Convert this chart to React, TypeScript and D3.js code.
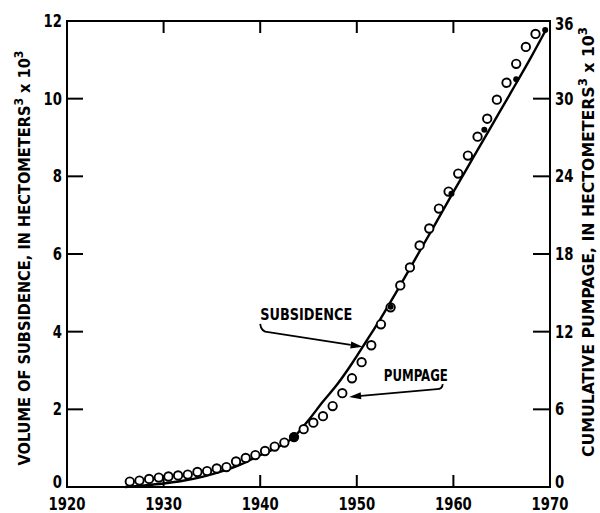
import React from "react";
import * as d3 from "d3";

// Cumulative pumpage (right axis, hm3 x 10^3), annual points plotted at mid-year
const pumpYears = [
  1926.5, 1927.5, 1928.5, 1929.5, 1930.5, 1931.5, 1932.5, 1933.5, 1934.5, 1935.5,
  1936.5, 1937.5, 1938.5, 1939.5, 1940.5, 1941.5, 1942.5, 1943.5, 1944.5, 1945.5,
  1946.5, 1947.5, 1948.5, 1949.5, 1950.5, 1951.5, 1952.5, 1953.5, 1954.5, 1955.5,
  1956.5, 1957.5, 1958.5, 1959.5, 1960.5, 1961.5, 1962.5, 1963.5, 1964.5, 1965.5,
  1966.5, 1967.5, 1968.5,
];
const pumpage = [
  0.42, 0.5, 0.62, 0.73, 0.81, 0.89, 0.96, 1.16, 1.23, 1.43,
  1.54, 1.97, 2.24, 2.47, 2.78, 3.12, 3.43, 3.86, 4.47, 4.97,
  5.47, 6.25, 7.25, 8.4, 9.64, 10.95, 12.57, 13.88, 15.57, 16.96,
  18.66, 19.97, 21.51, 22.82, 24.21, 25.6, 27.06, 28.45, 29.92, 31.23,
  32.69, 34.0, 35.0,
];

// Volume of subsidence curve (left axis, hm3 x 10^3)
const subYears = [
  1926, 1928, 1930, 1932, 1934, 1936, 1938, 1940, 1942, 1943.5, 1945, 1946.5,
  1948, 1949.5, 1951, 1952.5, 1954, 1956, 1958, 1960, 1962, 1964, 1966, 1968, 1969.6,
];
const subsidence = [
  0, 0.04, 0.09, 0.16, 0.26, 0.4, 0.58, 0.82, 1.05, 1.29, 1.72, 2.2,
  2.65, 3.18, 3.76, 4.35, 4.98, 5.85, 6.72, 7.6, 8.46, 9.32, 10.18, 11.05, 11.78,
];

// Solid (filled) points along the subsidence curve
const filledYears = [1943.5, 1953.5, 1959.8, 1963.2, 1966.5, 1969.5];
const filledValues = [1.29, 4.64, 7.55, 9.2, 10.5, 11.77];

// Tick labels
const xTicks = [1920, 1930, 1940, 1950, 1960, 1970];
const leftTicks = [0, 2, 4, 6, 8, 10, 12];
const rightTicks = [0, 6, 12, 18, 24, 30, 36];

const W = 600;
const H = 513;
const FONT = "'DejaVu Sans Condensed', 'DejaVu Sans', 'Liberation Sans Narrow', sans-serif";

export default function App() {
  const x = d3.scaleLinear().domain([1920, 1970]).range([67, 550]);
  const yL = d3.scaleLinear().domain([0, 12]).range([487, 21]);
  const yR = d3.scaleLinear().domain([0, 36]).range([487, 21]);

  const line = d3
    .line<number>()
    .x((_, i) => x(subYears[i]))
    .y((d) => yL(d))
    .curve(d3.curveMonotoneX);

  const x0 = x(1920);
  const x1 = x(1970);
  const yTop = yL(12);
  const yBot = yL(0);

  const textStyle: React.CSSProperties = {
    fontFamily: FONT,
    fontWeight: "bold",
    fontStretch: "condensed",
  };

  // annotation anchors in data units
  const subLabel = [1940.0, 4.3];
  const subArrow = [
    [1940.0, 4.2],
    [1940.85, 3.99],
    [1950.6, 3.61],
  ];
  const pumpLabel = [1952.8, 2.73];
  const pumpArrow = [
    [1958.9, 2.65],
    [1958.3, 2.52],
    [1949.2, 2.32],
  ];

  const arrow = (pts: number[][]) => {
    const p = pts.map(([a, b]) => [x(a), yL(b)]);
    const [s, c, t] = p;
    const ang = Math.atan2(t[1] - c[1], t[0] - c[0]);
    const len = 12;
    const half = 3.5;
    const bx = t[0] - len * Math.cos(ang);
    const by = t[1] - len * Math.sin(ang);
    const nx = -Math.sin(ang);
    const ny = Math.cos(ang);
    const d = `M${s[0]},${s[1]} Q${s[0] + (c[0] - s[0]) * 0.1},${c[1]} ${c[0]},${c[1]} L${bx},${by}`;
    const head = `M${t[0]},${t[1]} L${bx + nx * half},${by + ny * half} L${bx - nx * half},${by - ny * half} Z`;
    return (
      <g>
        <path d={d} fill="none" stroke="#000" strokeWidth={1.8} />
        <path d={head} fill="#000" />
      </g>
    );
  };

  const labelLen = (s: string) => s.length * 9.2;

  return (
    <svg
      width={W}
      height={H}
      style={{ position: "absolute", left: 0, top: 0, background: "#fff" }}
    >
      <rect x={0} y={0} width={W} height={H} fill="#fff" />
      {/* frame */}
      <rect
        x={x0}
        y={yTop}
        width={x1 - x0}
        height={yBot - yTop}
        fill="none"
        stroke="#000"
        strokeWidth={2}
      />
      {/* left ticks */}
      {leftTicks
        .filter((v) => v > 0 && v < 12)
        .map((v) => (
          <line key={"lt" + v} x1={x0} x2={x0 + 16} y1={yL(v)} y2={yL(v)} stroke="#000" strokeWidth={2} />
        ))}
      {/* right ticks */}
      {rightTicks
        .filter((v) => v > 0 && v < 36)
        .map((v) => (
          <line key={"rt" + v} x1={x1 - 17} x2={x1} y1={yR(v)} y2={yR(v)} stroke="#000" strokeWidth={2} />
        ))}
      {/* bottom & top ticks */}
      {xTicks
        .filter((v) => v > 1920 && v < 1970)
        .map((v) => (
          <g key={"xt" + v}>
            <line x1={x(v)} x2={x(v)} y1={yBot} y2={yBot - 12} stroke="#000" strokeWidth={2} />
            <line x1={x(v)} x2={x(v)} y1={yTop} y2={yTop + 12} stroke="#000" strokeWidth={2} />
          </g>
        ))}
      {/* tick labels */}
      {leftTicks.map((v) => (
        <text
          key={"ll" + v}
          x={x0 - 5}
          y={yL(v) - (v === 0 ? 5 : 0)}
          textAnchor="end"
          dominantBaseline="central"
          fontSize={17}
          style={textStyle}
          textLength={labelLen(String(v))}
          lengthAdjust="spacingAndGlyphs"
        >
          {v}
        </text>
      ))}
      {rightTicks.map((v) => (
        <text
          key={"rl" + v}
          x={x1 + 5}
          y={yR(v) - (v === 0 ? 5 : 0) + (v === 36 ? 3 : 0)}
          textAnchor="start"
          dominantBaseline="central"
          fontSize={17}
          style={textStyle}
          textLength={labelLen(String(v))}
          lengthAdjust="spacingAndGlyphs"
        >
          {v}
        </text>
      ))}
      {xTicks.map((v) => (
        <text
          key={"xl" + v}
          x={x(v)}
          y={510}
          textAnchor="middle"
          fontSize={17}
          style={textStyle}
          textLength={labelLen(String(v))}
          lengthAdjust="spacingAndGlyphs"
        >
          {v}
        </text>
      ))}
      {/* axis titles */}
      <text
        transform="translate(30,258) rotate(-90)"
        textAnchor="middle"
        fontSize={16}
        style={textStyle}
        textLength={415}
        lengthAdjust="spacingAndGlyphs"
      >
        VOLUME OF SUBSIDENCE, IN HECTOMETERS
        <tspan dy={-7} fontSize={12}>3</tspan>
        <tspan dy={7}> x 10</tspan>
        <tspan dy={-7} fontSize={12}>3</tspan>
      </text>
      <text
        transform="translate(594,242) rotate(-90)"
        textAnchor="middle"
        fontSize={16}
        style={textStyle}
        textLength={430}
        lengthAdjust="spacingAndGlyphs"
      >
        CUMULATIVE PUMPAGE, IN HECTOMETERS
        <tspan dy={-7} fontSize={12}>3</tspan>
        <tspan dy={7}> x 10</tspan>
        <tspan dy={-7} fontSize={12}>3</tspan>
      </text>
      {/* subsidence curve */}
      <path d={line(subsidence) || ""} fill="none" stroke="#000" strokeWidth={2.4} />
      {/* pumpage circles */}
      {pumpage.map((v, i) => (
        <circle key={"p" + i} cx={x(pumpYears[i])} cy={yR(v)} r={4.2} fill="#fff" stroke="#000" strokeWidth={1.9} />
      ))}
      {/* filled points */}
      {filledValues.map((v, i) => (
        <circle key={"f" + i} cx={x(filledYears[i])} cy={yL(v)} r={i === 0 ? 4.6 : 3} fill="#000" />
      ))}
      {/* annotations */}
      <text
        x={x(subLabel[0])}
        y={yL(subLabel[1])}
        fontSize={16}
        style={textStyle}
        textLength={92}
        lengthAdjust="spacingAndGlyphs"
      >
        SUBSIDENCE
      </text>
      {arrow(subArrow)}
      <text
        x={x(pumpLabel[0])}
        y={yL(pumpLabel[1])}
        fontSize={16}
        style={textStyle}
        textLength={64}
        lengthAdjust="spacingAndGlyphs"
      >
        PUMPAGE
      </text>
      {arrow(pumpArrow)}
    </svg>
  );
}
